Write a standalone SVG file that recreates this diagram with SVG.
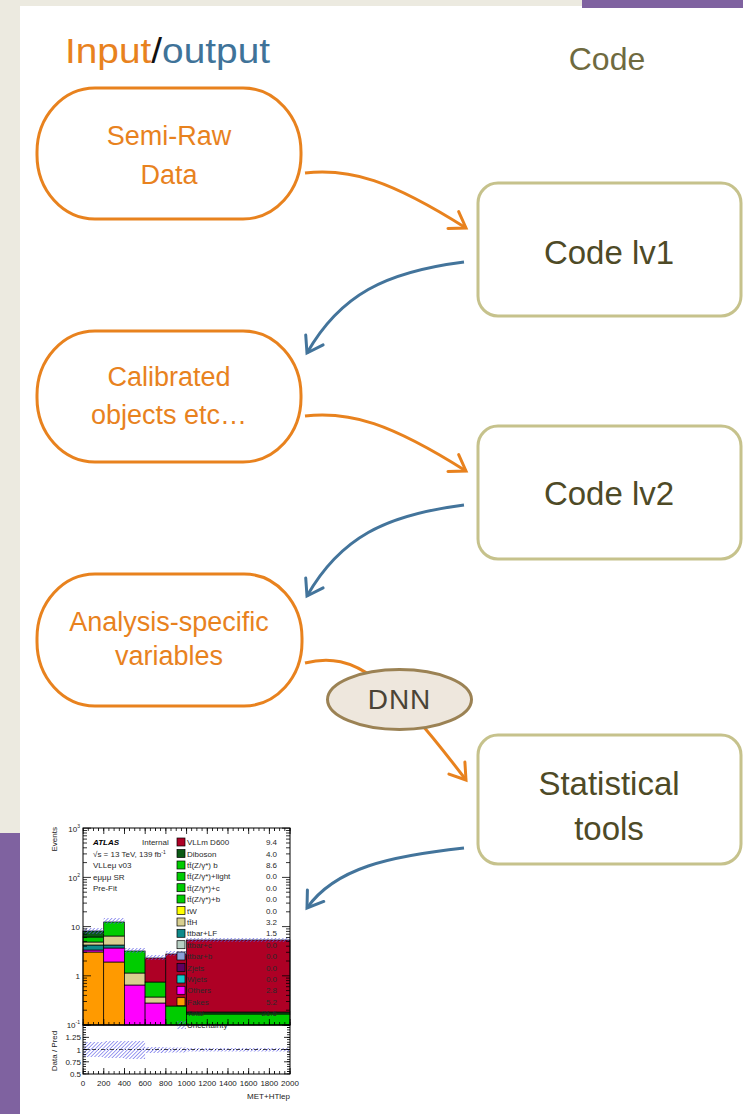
<svg xmlns="http://www.w3.org/2000/svg" width="743" height="1114" viewBox="0 0 743 1114">
  <style>
    .sans { font-family: "Liberation Sans", Arial, sans-serif; }
    .io { fill: #fff; stroke: #E8821E; stroke-width: 3; }
    .code { fill: #fff; stroke: #C6C28C; stroke-width: 3; }
    .tio { font-family: "Liberation Sans", Arial, sans-serif; font-size: 27px; fill: #E8821E; text-anchor: middle; }
    .tcode { font-family: "Liberation Sans", Arial, sans-serif; font-size: 33px; fill: #4E4A26; text-anchor: middle; }
    .arO { fill: none; stroke: #E8821E; stroke-width: 3; marker-end: url(#mO); }
    .arB { fill: none; stroke: #43749B; stroke-width: 3; marker-end: url(#mB); }
    .k { stroke: #000; stroke-width: 0.7; }
    .lg { font-family: "Liberation Sans", Arial, sans-serif; font-size: 8px; fill: #2a2a2a; }
    .lv { font-family: "Liberation Sans", Arial, sans-serif; font-size: 8px; fill: #2a2a2a; text-anchor: end; }
    .ax { font-family: "Liberation Sans", Arial, sans-serif; font-size: 8px; fill: #222; }
  </style>
  <defs>
    <marker id="mO" markerUnits="userSpaceOnUse" orient="auto" viewBox="-20 -13 24 26" refX="0" refY="0" markerWidth="24" markerHeight="26">
      <path d="M-15,-10 L0,0 L-15,10" fill="none" stroke="#E8821E" stroke-width="3" stroke-linecap="round" stroke-linejoin="miter"/>
    </marker>
    <marker id="mB" markerUnits="userSpaceOnUse" orient="auto" viewBox="-20 -13 24 26" refX="0" refY="0" markerWidth="24" markerHeight="26">
      <path d="M-15,-10 L0,0 L-15,10" fill="none" stroke="#43749B" stroke-width="3" stroke-linecap="round" stroke-linejoin="miter"/>
    </marker>
    <pattern id="hatch" patternUnits="userSpaceOnUse" width="2.6" height="2.6" patternTransform="rotate(45)">
      <line x1="0" y1="0" x2="0" y2="2.6" stroke="#5A5AE6" stroke-width="1.2"/>
    </pattern>
    <!-- axis tick combs -->
    <pattern id="tkx" patternUnits="userSpaceOnUse" x="82.6" y="0" width="5.175" height="10">
      <rect x="0" y="0" width="0.8" height="10" fill="#000"/>
    </pattern>
    <pattern id="tkX" patternUnits="userSpaceOnUse" x="82.6" y="0" width="20.7" height="10">
      <rect x="0" y="0" width="0.8" height="10" fill="#000"/>
    </pattern>
    <pattern id="tky" patternUnits="userSpaceOnUse" x="0" y="1024.6" width="10" height="2.45">
      <rect x="0" y="0" width="10" height="0.8" fill="#000"/>
    </pattern>
    <pattern id="tkY" patternUnits="userSpaceOnUse" x="0" y="1024.6" width="10" height="12.25">
      <rect x="0" y="0" width="10" height="0.8" fill="#000"/>
    </pattern>
  </defs>

  <!-- slide background -->
  <rect x="0" y="0" width="743" height="1114" fill="#ECEAE0"/>
  <rect x="20" y="6" width="723" height="1108" fill="#fff"/>
  <rect x="582" y="0" width="161" height="8" fill="#7F62A0"/>
  <rect x="0" y="833" width="20" height="281" fill="#7F62A0"/>

  <!-- column headers -->
  <g id="headers">
    <text x="65" y="63" class="sans" font-size="35" textLength="205" lengthAdjust="spacingAndGlyphs"><tspan fill="#E8821E">Input</tspan><tspan fill="#111">/</tspan><tspan fill="#3F7399">output</tspan></text>
    <text x="607" y="70" class="sans" font-size="32" fill="#6F6A3F" text-anchor="middle">Code</text>
  </g>

  <!-- connectors -->
  <g id="connectors">
    <path class="arO" d="M305,173 C350,168 390,180 466,228"/>
    <path class="arB" d="M464,262 C385,272 340,295 307,353"/>
    <path class="arO" d="M305,416 C350,411 390,423 466,471"/>
    <path class="arB" d="M464,505 C385,515 340,538 307,596"/>
    <path class="arO" d="M305,663 C355,650 390,680 466,780"/>
    <path class="arB" d="M464,848 C390,856 335,868 307,908"/>
  </g>

  <!-- input / output nodes -->
  <g id="semi-raw-data">
    <rect class="io" x="37" y="88" width="264" height="131" rx="58" ry="64"/>
    <text class="tio" x="169" y="145">Semi-Raw</text>
    <text class="tio" x="169" y="184">Data</text>
  </g>
  <g id="calibrated-objects">
    <rect class="io" x="37" y="331" width="264" height="131" rx="58" ry="64"/>
    <text class="tio" x="169" y="386">Calibrated</text>
    <text class="tio" x="169" y="424">objects etc…</text>
  </g>
  <g id="analysis-variables">
    <rect class="io" x="37" y="574" width="265" height="132" rx="58" ry="64"/>
    <text class="tio" x="169" y="631">Analysis-specific</text>
    <text class="tio" x="169" y="665">variables</text>
  </g>

  <!-- code nodes -->
  <g id="code-lv1">
    <rect class="code" x="478" y="183" width="263" height="133" rx="20"/>
    <text class="tcode" x="609" y="264">Code lv1</text>
  </g>
  <g id="code-lv2">
    <rect class="code" x="478" y="426" width="263" height="133" rx="20"/>
    <text class="tcode" x="609" y="505">Code lv2</text>
  </g>
  <g id="statistical-tools">
    <rect class="code" x="478" y="735" width="263" height="129" rx="20"/>
    <text class="tcode" x="609" y="795">Statistical</text>
    <text class="tcode" x="609" y="840">tools</text>
  </g>

  <!-- DNN step -->
  <g id="dnn">
    <ellipse cx="399.5" cy="699.5" rx="72" ry="30" fill="#EEE7DD" stroke="#9B8254" stroke-width="3"/>
    <text x="399.5" y="709" class="sans" font-size="28" fill="#4A4336" text-anchor="middle" letter-spacing="1">DNN</text>
  </g>

  <!-- result histogram -->
  <g id="result-plot">
    <rect x="83" y="828" width="207" height="246" fill="#fff"/>

    <!-- stacked bins -->
    <g class="k">
      <rect x="83" y="952" width="20.7" height="73" fill="#FF9A00"/>
      <rect x="83" y="950" width="20.7" height="2" fill="#FF00FF"/>
      <rect x="83" y="945" width="20.7" height="5" fill="#0E8A8A"/>
      <rect x="83" y="942" width="20.7" height="3" fill="#D8CF8F"/>
      <rect x="83" y="937" width="20.7" height="5" fill="#00CC00"/>
      <rect x="83" y="931" width="20.7" height="6" fill="#0A5A14"/>

      <rect x="103.7" y="962" width="20.7" height="63" fill="#FF9A00"/>
      <rect x="103.7" y="948" width="20.7" height="14" fill="#FF00FF"/>
      <rect x="103.7" y="945" width="20.7" height="3" fill="#0E8A8A"/>
      <rect x="103.7" y="936" width="20.7" height="9" fill="#D8CF8F"/>
      <rect x="103.7" y="922" width="20.7" height="14" fill="#00CC00"/>

      <rect x="124.4" y="985" width="20.7" height="40" fill="#FF00FF"/>
      <rect x="124.4" y="973" width="20.7" height="12" fill="#D8CF8F"/>
      <rect x="124.4" y="951" width="20.7" height="22" fill="#00CC00"/>

      <rect x="145.1" y="1003" width="20.7" height="22" fill="#FF00FF"/>
      <rect x="145.1" y="997" width="20.7" height="6" fill="#D8CF8F"/>
      <rect x="145.1" y="982" width="20.7" height="15" fill="#00CC00"/>
      <rect x="145.1" y="958" width="20.7" height="24" fill="#AE0025"/>

      <rect x="165.8" y="1006" width="20.7" height="19" fill="#00CC00"/>
      <rect x="165.8" y="954" width="20.7" height="52" fill="#AE0025"/>

      <rect x="186.5" y="1014" width="103.5" height="11" fill="#00CC00"/>
      <rect x="186.5" y="1012" width="103.5" height="2" fill="#0A5A14"/>
      <rect x="186.5" y="940" width="103.5" height="72" fill="#AE0025"/>
    </g>

    <!-- stat. uncertainty on the stack -->
    <g fill="url(#hatch)">
      <rect x="83" y="928" width="20.7" height="6"/>
      <rect x="103.7" y="918" width="20.7" height="6"/>
      <rect x="124.4" y="948" width="20.7" height="5"/>
      <rect x="145.1" y="955" width="20.7" height="5"/>
      <rect x="165.8" y="951" width="20.7" height="5"/>
      <rect x="186.5" y="938" width="103.5" height="4"/>
    </g>

    <!-- ratio band -->
    <g fill="url(#hatch)">
      <rect x="83" y="1042" width="20.7" height="15"/>
      <rect x="103.7" y="1041" width="20.7" height="17"/>
      <rect x="124.4" y="1041" width="20.7" height="18"/>
      <rect x="145.1" y="1047" width="20.7" height="6"/>
      <rect x="165.8" y="1047.5" width="20.7" height="5"/>
      <rect x="186.5" y="1048" width="103.5" height="3.5"/>
    </g>
    <line x1="83" y1="1049.5" x2="290" y2="1049.5" stroke="#000" stroke-width="0.7" stroke-dasharray="4 2 1 2"/>

    <!-- legend -->
    <g class="k">
      <rect x="177" y="838" width="8" height="8" fill="#AE0025"/>
      <rect x="177" y="849.5" width="8" height="8" fill="#0A5A14"/>
      <rect x="177" y="861" width="8" height="8" fill="#00CC00"/>
      <rect x="177" y="872.3" width="8" height="8" fill="#00CC00"/>
      <rect x="177" y="883.7" width="8" height="8" fill="#00CC00"/>
      <rect x="177" y="895" width="8" height="8" fill="#00CC00"/>
      <rect x="177" y="906.5" width="8" height="8" fill="#FFFF00"/>
      <rect x="177" y="918" width="8" height="8" fill="#D8CF8F"/>
      <rect x="177" y="929.3" width="8" height="8" fill="#0E8A8A"/>
      <rect x="177" y="940.7" width="8" height="8" fill="#B8D0C4"/>
      <rect x="177" y="952" width="8" height="8" fill="#8AA0D8"/>
      <rect x="177" y="963.5" width="8" height="8" fill="#600060"/>
      <rect x="177" y="975" width="8" height="8" fill="#10C8C8"/>
      <rect x="177" y="986.3" width="8" height="8" fill="#FF00FF"/>
      <rect x="177" y="997.7" width="8" height="8" fill="#FF9A00"/>
    </g>
    <rect x="177" y="1021" width="9" height="8" fill="url(#hatch)"/>
    <g class="lg">
      <text x="187" y="845">VLLm D600</text>
      <text x="187" y="856.5">Diboson</text>
      <text x="187" y="868">tt̄(Z/γ*) b</text>
      <text x="187" y="879.3">tt̄(Z/γ*)+light</text>
      <text x="187" y="890.7">tt̄(Z/γ*)+c</text>
      <text x="187" y="902">tt̄(Z/γ*)+b</text>
      <text x="187" y="913.5">tW</text>
      <text x="187" y="925">tt̄H</text>
      <text x="187" y="936.3">ttbar+LF</text>
      <text x="187" y="947.7">ttbar+c</text>
      <text x="187" y="959">ttbar+b</text>
      <text x="187" y="970.5">Zjets</text>
      <text x="187" y="982">Wjets</text>
      <text x="187" y="993.3">Others</text>
      <text x="187" y="1004.7">Fakes</text>
      <text x="187" y="1016">Total</text>
      <text x="187" y="1028">Uncertainty</text>
    </g>
    <g class="lv">
      <text x="277" y="845">9.4</text>
      <text x="277" y="856.5">4.0</text>
      <text x="277" y="868">8.6</text>
      <text x="277" y="879.3">0.0</text>
      <text x="277" y="890.7">0.0</text>
      <text x="277" y="902">0.0</text>
      <text x="277" y="913.5">0.0</text>
      <text x="277" y="925">3.2</text>
      <text x="277" y="936.3">1.5</text>
      <text x="277" y="947.7">0.0</text>
      <text x="277" y="959">0.0</text>
      <text x="277" y="970.5">0.0</text>
      <text x="277" y="982">0.0</text>
      <text x="277" y="993.3">2.8</text>
      <text x="277" y="1004.7">5.2</text>
      <text x="277" y="1016">21.6</text>
    </g>

    <!-- ATLAS label block -->
    <g class="lg">
      <text x="93" y="845" font-weight="bold" font-style="italic" fill="#000">ATLAS</text>
      <text x="142" y="845">Internal</text>
      <text x="93" y="856.5">√s = 13 TeV, 139 fb<tspan dy="-3" font-size="5">-1</tspan></text>
      <text x="93" y="868">VLLeμ v03</text>
      <text x="93" y="879.5">eμμμ SR</text>
      <text x="93" y="891">Pre-Fit</text>
    </g>

    <!-- frames -->
    <rect x="83" y="828" width="207" height="197" fill="none" stroke="#000" stroke-width="1"/>
    <rect x="83" y="1025" width="207" height="49" fill="none" stroke="#000" stroke-width="1"/>

    <!-- x ticks -->
    <rect x="82.6" y="828" width="208.4" height="3" fill="url(#tkx)"/>
    <rect x="82.6" y="828" width="208.4" height="6" fill="url(#tkX)"/>
    <rect x="82.6" y="1022" width="208.4" height="3" fill="url(#tkx)"/>
    <rect x="82.6" y="1019" width="208.4" height="6" fill="url(#tkX)"/>
    <rect x="82.6" y="1071" width="208.4" height="3" fill="url(#tkx)"/>
    <rect x="82.6" y="1068" width="208.4" height="6" fill="url(#tkX)"/>

    <!-- log y ticks -->
    <path fill="none" stroke="#000" stroke-width="0.8" d="M83,1025 h8 m-8,-14.8 h4 m-4,-8.7 h4 m-4,-6.1 h4 m-4,-4.8 h4 m-4,-3.9 h4 m-4,-3.3 h4 m-4,-2.8 h4 m-4,-2.5 h4 m-4,-2.3 h8 m-8,-14.8 h4 m-4,-8.7 h4 m-4,-6.1 h4 m-4,-4.8 h4 m-4,-3.9 h4 m-4,-3.3 h4 m-4,-2.8 h4 m-4,-2.5 h4 m-4,-2.3 h8 m-8,-14.8 h4 m-4,-8.7 h4 m-4,-6.1 h4 m-4,-4.8 h4 m-4,-3.9 h4 m-4,-3.3 h4 m-4,-2.8 h4 m-4,-2.5 h4 m-4,-2.3 h8 m-8,-14.8 h4 m-4,-8.7 h4 m-4,-6.1 h4 m-4,-4.8 h4 m-4,-3.9 h4 m-4,-3.3 h4 m-4,-2.8 h4 m-4,-2.5 h4 m-4,-2.3 h8"/>
    <path fill="none" stroke="#000" stroke-width="0.8" d="M290,1025 h-8 m8,-14.8 h-4 m4,-8.7 h-4 m4,-6.1 h-4 m4,-4.8 h-4 m4,-3.9 h-4 m4,-3.3 h-4 m4,-2.8 h-4 m4,-2.5 h-4 m4,-2.3 h-8 m8,-14.8 h-4 m4,-8.7 h-4 m4,-6.1 h-4 m4,-4.8 h-4 m4,-3.9 h-4 m4,-3.3 h-4 m4,-2.8 h-4 m4,-2.5 h-4 m4,-2.3 h-8 m8,-14.8 h-4 m4,-8.7 h-4 m4,-6.1 h-4 m4,-4.8 h-4 m4,-3.9 h-4 m4,-3.3 h-4 m4,-2.8 h-4 m4,-2.5 h-4 m4,-2.3 h-8 m8,-14.8 h-4 m4,-8.7 h-4 m4,-6.1 h-4 m4,-4.8 h-4 m4,-3.9 h-4 m4,-3.3 h-4 m4,-2.8 h-4 m4,-2.5 h-4 m4,-2.3 h-8"/>

    <!-- ratio y ticks -->
    <rect x="83" y="1024.6" width="3" height="49.8" fill="url(#tky)"/>
    <rect x="83" y="1024.6" width="6" height="49.8" fill="url(#tkY)"/>
    <rect x="287" y="1024.6" width="3" height="49.8" fill="url(#tky)"/>
    <rect x="284" y="1024.6" width="6" height="49.8" fill="url(#tkY)"/>

    <!-- axis labels -->
    <g class="ax" text-anchor="end">
      <text x="80" y="832">10<tspan dy="-4" font-size="5">3</tspan></text>
      <text x="80" y="881">10<tspan dy="-4" font-size="5">2</tspan></text>
      <text x="80" y="930">10</text>
      <text x="80" y="979">1</text>
      <text x="80" y="1028">10<tspan dy="-4" font-size="5">-1</tspan></text>
      <text x="81" y="1040">1.25</text>
      <text x="81" y="1052.5">1</text>
      <text x="81" y="1064.5">0.75</text>
      <text x="81" y="1077">0.5</text>
    </g>
    <g class="ax" text-anchor="middle">
      <text x="83" y="1086">0</text>
      <text x="103.7" y="1086">200</text>
      <text x="124.4" y="1086">400</text>
      <text x="145.1" y="1086">600</text>
      <text x="165.8" y="1086">800</text>
      <text x="186.5" y="1086">1000</text>
      <text x="207.2" y="1086">1200</text>
      <text x="227.9" y="1086">1400</text>
      <text x="248.6" y="1086">1600</text>
      <text x="269.3" y="1086">1800</text>
      <text x="290" y="1086">2000</text>
    </g>
    <text class="ax" x="290" y="1099" text-anchor="end">MET+HTlep</text>
    <text class="ax" transform="translate(57,827) rotate(-90)" text-anchor="end" font-size="7">Events</text>
    <text class="ax" transform="translate(57,1051) rotate(-90)" text-anchor="middle" font-size="8">Data / Pred</text>
  </g>
</svg>
